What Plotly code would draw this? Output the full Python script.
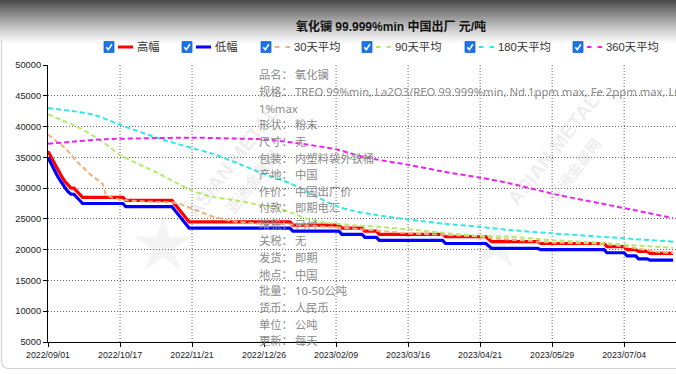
import math
import plotly.graph_objects as go

# ---------------- data ----------------
x_tick_idx = [0, 25, 50, 75, 100, 125, 150, 175, 200]
x_tick_labels = ['2022/09/01', '2022/10/17', '2022/11/21', '2022/12/26', '2023/02/09',
                 '2023/03/16', '2023/04/21', '2023/05/29', '2023/07/04']
x_grid_idx = [25, 50, 100, 125, 150, 175, 200]
y_ticks = [5000, 10000, 15000, 20000, 25000, 30000, 35000, 40000, 45000, 50000]

high_idx = [0, 1, 2, 3, 4, 5, 6, 7, 8, 9, 10, 11, 12, 26, 27, 43, 44, 45, 46, 47, 48, 49,
            84, 85, 101, 102, 109, 110, 114, 115, 137, 138, 152, 153, 154, 170, 171,
            193, 194, 200, 201, 204, 205, 208, 209, 217]
high_val = [36000, 35100, 34200, 33300, 32500, 31700, 31000, 30500, 30000, 30000, 29500, 29000, 28500,
            28500, 28000, 28000, 27400, 26800, 26200, 25600, 25000, 24500,
            24500, 24000, 24000, 23500, 23500, 23000, 23000, 22500, 22500, 22100, 22100, 21700, 21300,
            21300, 21000, 21000, 20500, 20500, 20000, 20000, 19700, 19700, 19400, 19400]

low_idx = high_idx
low_val = [35000, 34000, 33000, 32200, 31400, 30600, 30000, 29400, 29000, 29000, 28500, 28000, 27500,
           27500, 27000, 27000, 26400, 25800, 25200, 24600, 24000, 23500,
           23500, 23000, 23000, 22500, 22500, 22000, 22000, 21500, 21500, 21000, 21000, 20600, 20200,
           20200, 20000, 20000, 19500, 19500, 19000, 19000, 18500, 18500, 18300, 18300]

ma30_idx = [0, 3, 6, 10, 15, 19, 20, 22, 25, 34, 43, 46, 50, 57, 64, 74, 84, 95, 104, 112, 118,
            125, 138, 150, 156, 165, 175, 190, 196, 203, 208, 212, 217]
ma30_val = [38700, 37600, 36500, 34300, 32100, 30700, 29000, 28500, 28100, 27800, 27700, 27400, 26700,
            25400, 24600, 24200, 24100, 23800, 23500, 23200, 22900, 22650, 22400, 22150, 21800, 21450,
            21150, 21000, 20800, 20300, 19900, 19600, 19450]

ma90_idx = [0, 5, 10, 15, 19, 25, 31, 37, 44, 50, 57, 64, 72, 80, 85, 90, 95, 101, 108, 115, 125,
            137, 150, 160, 175, 192, 208, 217]
ma90_val = [42000, 41000, 40000, 38700, 37500, 35400, 34000, 32700, 31000, 29600, 28600, 28100, 27400,
            26700, 25900, 25000, 24500, 24150, 23900, 23700, 23300, 22750, 22200, 22100, 21550, 21100,
            20550, 20300]

ma180_idx = [0, 10, 16, 25, 37, 50, 57, 67, 75, 84, 92, 100, 106, 113, 125, 137, 150, 160, 175, 192, 217]
ma180_val = [43000, 42400, 41900, 40300, 38300, 36500, 35600, 33800, 32300, 30800, 28900, 27100, 26300,
             25700, 24900, 24250, 23700, 23200, 22650, 22100, 21300]

ma360_idx = [0, 10, 20, 35, 50, 60, 75, 85, 100, 110, 125, 137, 150, 160, 177, 192, 208, 217]
ma360_val = [37200, 37600, 37950, 38100, 38200, 38100, 37900, 37400, 36300, 35000, 33800, 32700, 31700,
             30800, 28900, 27500, 26000, 25100]

series_names = ['高幅', '低幅', '30天平均', '90天平均', '180天平均', '360天平均']
series_colors = ['#ff0000', '#0000ff', '#f4b07a', '#b4ec6a', '#2ee8ec', '#f020f0']

title_text = '氧化镧 99.999%min 中国出厂 元/吨'
info_labels = ['品名：', '规格：', '1%max', '形状：', '尺寸：', '包装：', '产地：', '作价：', '付款：',
               '增税：', '关税：', '发货：', '地点：', '批量：', '货币：', '单位：', '更新：']
info_values = ['氧化镧', 'TREO 99%min, La2O3/REO 99.999%min, Nd 1ppm max, Fe 2ppm max, LOI', '',
               '粉末', '无', '内塑料袋外铁桶', '中国', '中国出厂价', '即期电汇', '已付', '无', '即期',
               '中国', '10-50公吨', '人民币', '公吨', '每天']

# ---------------- geometry helpers ----------------
W, H = 676, 374
L, R, T, B = 48, 0, 65, 32
PW = W - L - R
PH = H - T - B


def px(x):
    return (x - L) / PW


def py(y):
    return (H - B - y) / PH


def P(x, y):
    return f"{px(x):.5f},{py(y):.5f}"


FONT = 'Liberation Sans, Arial, Noto Sans CJK SC, sans-serif'
CJK = 'Noto Sans, Noto Sans CJK SC, sans-serif'

fig = go.Figure()

fig.add_trace(go.Scatter(x=high_idx, y=high_val, mode='lines', name=series_names[0],
                         line=dict(color=series_colors[0], width=3.2)))
fig.add_trace(go.Scatter(x=low_idx, y=low_val, mode='lines', name=series_names[1],
                         line=dict(color=series_colors[1], width=3.2)))
fig.add_trace(go.Scatter(x=ma30_idx, y=ma30_val, mode='lines', name=series_names[2],
                         line=dict(color=series_colors[2], width=2, dash='5px,3px')))
fig.add_trace(go.Scatter(x=ma90_idx, y=ma90_val, mode='lines', name=series_names[3],
                         line=dict(color=series_colors[3], width=2, dash='5px,3px', shape='spline', smoothing=0.8)))
fig.add_trace(go.Scatter(x=ma180_idx, y=ma180_val, mode='lines', name=series_names[4],
                         line=dict(color=series_colors[4], width=2, dash='5px,3px', shape='spline', smoothing=0.8)))
fig.add_trace(go.Scatter(x=ma360_idx, y=ma360_val, mode='lines', name=series_names[5],
                         line=dict(color=series_colors[5], width=2, dash='5px,3px', shape='spline', smoothing=0.8)))

shapes = []
annotations = []

# gradient header
NSTRIP = 44
for i in range(NSTRIP):
    t = i / NSTRIP
    c = int(round(255 - 180 * (1 - t) ** 1.15))
    shapes.append(dict(type='rect', xref='paper', yref='paper', x0=px(0), x1=px(W), y0=py(i), y1=py(i + 1.05),
                       fillcolor=f'rgb({c},{c},{c})', line=dict(width=0), layer='below'))

# rounded outer border (bottom part visible)
shapes.append(dict(type='path', xref='paper', yref='paper',
                   path=f"M {P(1.5, 40)} L {P(1.5, 361)} Q {P(1.5, 368.5)} {P(9, 368.5)} L {P(700, 368.5)}",
                   line=dict(color='#d4d4d4', width=1.2), layer='below'))

# vertical grid lines
for gi in x_grid_idx:
    shapes.append(dict(type='line', xref='x', yref='paper', x0=gi, x1=gi, y0=0, y1=1,
                       line=dict(color='#666666', width=1, dash='1px,2px'), layer='below'))

# faint star logos
for cx, cy in [(163, 246), (495, 243)]:
    pts = []
    for k in range(10):
        ang = -math.pi / 2 + k * math.pi / 5
        r = 30 if k % 2 == 0 else 11
        pts.append(P(cx + r * math.cos(ang), cy + r * math.sin(ang)))
    shapes.append(dict(type='path', xref='paper', yref='paper', path='M ' + ' L '.join(pts) + ' Z',
                       fillcolor='rgba(210,210,210,0.25)', line=dict(width=0), layer='below'))

# watermark text
for (cx, cy, txt, sz) in [(232, 162, 'ASIAN METAL', 20), (252, 182, '亚洲金属网', 15),
                          (553, 150, 'ASIAN METAL', 20), (574, 170, '亚洲金属网', 15)]:
    annotations.append(dict(xref='paper', yref='paper', x=px(cx), y=py(cy), text=f'<b>{txt}</b>',
                            showarrow=False, textangle=-52, xanchor='center', yanchor='middle',
                            font=dict(family=FONT, size=sz, color='rgba(150,150,150,0.18)')))

# title
annotations.append(dict(xref='paper', yref='paper', x=px(390.5), y=py(26.5), text=f'<b>{title_text}</b>',
                        showarrow=False, xanchor='center', yanchor='middle',
                        font=dict(family=FONT, size=12, color='#111111')))

# custom legend with checkboxes
box_x = [104, 182, 261, 362, 465, 573]
LY = 47
for i, name in enumerate(series_names):
    bx = box_x[i]
    shapes.append(dict(type='rect', xref='paper', yref='paper', x0=px(bx), x1=px(bx + 10),
                       y0=py(LY + 5.5), y1=py(LY - 5.5), fillcolor='#1a73e8',
                       line=dict(color='#1a6ad8', width=0.8)))
    shapes.append(dict(type='path', xref='paper', yref='paper',
                       path=f"M {P(bx + 2.3, LY + 0.2)} L {P(bx + 4.3, LY + 2.6)} L {P(bx + 7.9, LY - 2.8)}",
                       line=dict(color='white', width=1.6)))
    sx = bx + 14
    if i < 2:
        shapes.append(dict(type='line', xref='paper', yref='paper', x0=px(sx), x1=px(sx + 15),
                           y0=py(LY), y1=py(LY), line=dict(color=series_colors[i], width=3)))
    else:
        for d0 in (0, 10.5):
            shapes.append(dict(type='line', xref='paper', yref='paper', x0=px(sx + d0), x1=px(sx + d0 + 4.5),
                               y0=py(LY), y1=py(LY), line=dict(color=series_colors[i], width=2)))
    annotations.append(dict(xref='paper', yref='paper', x=px(sx + 17), y=py(LY), text=name,
                            showarrow=False, xanchor='left', yanchor='middle',
                            font=dict(family=FONT, size=11.3, color='#333333')))

# info text block
for i, (lab, val) in enumerate(zip(info_labels, info_values)):
    yy = 75 + 16.6 * i
    annotations.append(dict(xref='paper', yref='paper', x=px(257), y=py(yy), text=lab,
                            showarrow=False, xanchor='left', yanchor='middle',
                            font=dict(family=CJK, size=11.3, color='#8a8a8a')))
    if val:
        annotations.append(dict(xref='paper', yref='paper', x=px(293), y=py(yy), text=val,
                                showarrow=False, xanchor='left', yanchor='middle',
                                font=dict(family=CJK, size=11.3, color='#8a8a8a')))

fig.update_layout(
    width=W, height=H, autosize=False,
    margin=dict(l=L, r=R, t=T, b=B, pad=0),
    paper_bgcolor='white', plot_bgcolor='white',
    showlegend=False,
    shapes=shapes, annotations=annotations,
    xaxis=dict(range=[0, 218], tickmode='array', tickvals=x_tick_idx, ticktext=x_tick_labels,
               showgrid=False, zeroline=False, showline=True, linecolor='#000000', linewidth=1,
               ticks='outside', ticklen=4, tickcolor='#000000',
               tickfont=dict(family=FONT, size=8.8, color='#222222')),
    yaxis=dict(range=[5000, 50000], tickmode='array', tickvals=y_ticks,
               ticktext=[str(v) for v in y_ticks],
               showgrid=True, gridcolor='#666666', griddash='1px,2px', gridwidth=1,
               zeroline=False, showline=True, linecolor='#000000', linewidth=1,
               ticks='outside', ticklen=4, tickcolor='#000000',
               tickfont=dict(family=FONT, size=9.3, color='#222222')),
)

fig.write_html("out.html", config={'displayModeBar': False},
               post_script="document.body.style.margin='0';document.body.style.padding='0';")
